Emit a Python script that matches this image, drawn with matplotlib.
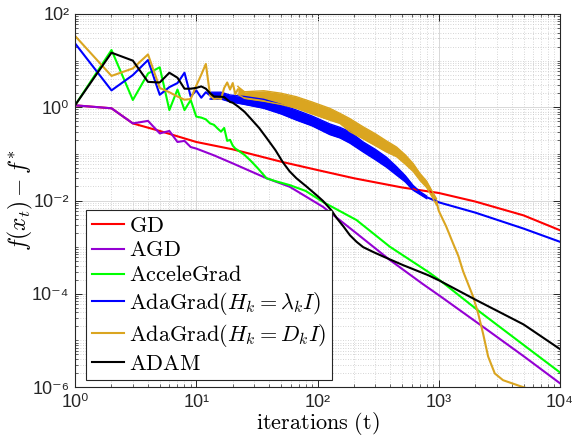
import numpy as np
import matplotlib
matplotlib.use("Agg")
import matplotlib.pyplot as plt
from matplotlib.ticker import LogLocator, FuncFormatter, NullFormatter

plt.rcParams['mathtext.fontset'] = 'cm'

# ---------------- data ----------------
gd_t = [1, 2, 3, 5, 10, 20, 50, 100, 200, 500, 1000, 2000, 5000, 10000]
gd_f = [1.1, 0.95, 0.45, 0.31, 0.18, 0.125, 0.068, 0.045, 0.03, 0.019, 0.0145, 0.0095, 0.0048, 0.0023]

agd_t = [1, 2, 3, 4, 5, 6, 7, 8, 9, 10, 14, 20, 38, 59, 111, 210, 395, 743, 1020, 2320, 5000, 10000]
agd_f = [1.1, 0.95, 0.45, 0.51, 0.275, 0.31, 0.18, 0.19, 0.14, 0.13, 0.093, 0.0625, 0.03, 0.0197,
         0.0073, 0.00197, 5.3e-4, 1.6e-4, 9e-5, 1.95e-5, 4.6e-6, 1.2e-6]

acc_t = [1, 2, 3, 4, 5, 6, 7, 8, 9, 10, 11, 12, 13, 14, 15, 16, 17, 18, 19, 20, 21, 22, 25, 28, 32,
         38, 45, 59, 80, 111, 210, 395, 818, 1020, 2180, 5000, 10000]
acc_f = [1.1, 16.9, 1.43, 5.3, 7.2, 0.87, 2.4, 0.87, 1.43, 0.63, 0.6, 0.55, 0.45, 0.42, 0.35, 0.3,
         0.36, 0.19, 0.2, 0.15, 0.13, 0.12, 0.095, 0.072, 0.05, 0.03, 0.026, 0.0214, 0.016, 0.0093,
         0.0038, 1.02e-3, 2.95e-4, 1.95e-4, 4.1e-5, 8e-6, 2.05e-6]

# AdaGrad(H_k = lambda_k I): start, oscillating band, tail
ada1_t = [1, 2, 3, 4, 5, 6, 7, 8, 9, 10, 11, 12, 13]
ada1_f = [23.5, 2.3, 4.9, 10.3, 1.85, 2.7, 3.3, 5.5, 1.7, 2.3, 1.6, 2.1, 1.8]
ada1_band_t = [13, 16, 19, 25, 36, 50, 67, 90, 126, 153, 185, 238, 300, 370, 449, 530, 615, 700, 794]
ada1_hi = [2.1, 2.1, 1.83, 1.7, 1.48, 1.15, 0.87, 0.65, 0.44, 0.37, 0.3, 0.18, 0.125, 0.085, 0.053,
           0.034, 0.021, 0.0155, 0.0125]
ada1_lo = [1.5, 1.5, 1.31, 1.15, 0.95, 0.72, 0.53, 0.4, 0.26, 0.22, 0.17, 0.11, 0.075, 0.052, 0.035,
           0.025, 0.0166, 0.0135, 0.011]
ada1_tail_t = [794, 1021, 2000, 5000, 10000]
ada1_tail_f = [0.0118, 0.009, 0.0055, 0.0025, 0.0013]

# AdaGrad(H_k = D_k I)
ada2_t = [1, 2, 3, 4, 5, 6, 7, 8, 9, 10, 11, 12, 13, 14, 15, 16, 17, 18, 19, 20, 21, 22]
ada2_f = [34, 4.7, 6.8, 13.6, 2.6, 2.1, 1.7, 1.45, 1.5, 2.9, 5, 8.5, 1.8, 1.5, 1.55, 1.5, 2.6, 3.4,
          2.4, 3.3, 1.9, 2.4]
ada2_band_t = [22, 25, 36, 50, 67, 90, 126, 153, 185, 238, 300, 370, 449, 530, 615, 700, 794, 880, 957]
ada2_hi = [2.8, 2.15, 2.26, 2.0, 1.68, 1.3, 0.95, 0.74, 0.57, 0.38, 0.27, 0.19, 0.14, 0.095, 0.062,
           0.038, 0.026, 0.016, 0.011]
ada2_lo = [1.9, 1.55, 1.35, 1.15, 0.95, 0.72, 0.53, 0.45, 0.3, 0.21, 0.15, 0.11, 0.087, 0.06, 0.042,
           0.027, 0.019, 0.012, 0.008]
ada2_tail_t = [957, 1000, 1150, 1313, 1450, 1590, 1923, 2113, 2320, 2555, 2900, 3390, 4660, 6000, 7000]
ada2_tail_f = [0.0095, 0.006, 0.0028, 1.2e-3, 6.5e-4, 3e-4, 8.6e-5, 3.8e-5, 1.4e-5, 4.5e-6, 1.95e-6,
               1.4e-6, 1.05e-6, 8.5e-7, 7e-7]

adam_t = [1, 2, 3, 4, 5, 6, 7, 8, 9, 10, 11, 12, 13, 14, 16, 17, 18, 19, 20, 22, 25, 28, 33, 38, 45,
          52, 59, 67, 81, 100, 111, 130, 144, 165, 185, 210, 238, 290, 348, 509, 818, 1020, 2040,
          5000, 10000]
adam_f = [1.1, 14.8, 10.0, 3.5, 3.4, 5.5, 4.3, 2.5, 2.5, 2.6, 2.8, 2.5, 2.0, 1.7, 1.68, 1.65, 1.45,
          1.3, 1.25, 1.05, 0.8, 0.58, 0.36, 0.22, 0.12, 0.065, 0.042, 0.03, 0.02, 0.0125, 0.0098,
          0.0062, 0.0042, 0.0027, 0.0018, 0.0013, 1.0e-3, 7.8e-4, 6.3e-4, 4.1e-4, 2.5e-4, 1.9e-4,
          7.3e-5, 2.2e-5, 6.5e-6]

c_gd = '#FF0000'
c_agd = '#9400D3'
c_acc = '#00FF00'
c_ada1 = '#0000FF'
c_ada2 = '#DAA520'
c_adam = '#000000'
lw = 1.5

fig = plt.figure(figsize=(5.73, 4.46), dpi=100)
ax = fig.add_axes([75 / 573, 1 - 387 / 446, 485 / 573, 373 / 446])
ax.set_xscale('log')
ax.set_yscale('log')

ax.plot(gd_t, gd_f, color=c_gd, lw=lw, label=r'$\mathrm{GD}$')
ax.plot(agd_t, agd_f, color=c_agd, lw=lw, label=r'$\mathrm{AGD}$')
ax.plot(acc_t, acc_f, color=c_acc, lw=lw, label=r'$\mathrm{AcceleGrad}$')

# oscillating AdaGrad curves: drawn as a filled band between envelopes
ax.plot(ada1_t, ada1_f, color=c_ada1, lw=lw, label=r'$\mathrm{AdaGrad}(H_k=\lambda_k I)$')
ax.fill_between(ada1_band_t, ada1_lo, ada1_hi, color=c_ada1, lw=0)
ax.plot(ada1_band_t, ada1_hi, color=c_ada1, lw=1)
ax.plot(ada1_band_t, ada1_lo, color=c_ada1, lw=1)
ax.plot(ada1_tail_t, ada1_tail_f, color=c_ada1, lw=lw)

ax.plot(ada2_t, ada2_f, color=c_ada2, lw=lw, label=r'$\mathrm{AdaGrad}(H_k=D_k I)$')
ax.fill_between(ada2_band_t, ada2_lo, ada2_hi, color=c_ada2, lw=0)
ax.plot(ada2_band_t, ada2_hi, color=c_ada2, lw=1)
ax.plot(ada2_band_t, ada2_lo, color=c_ada2, lw=1)
ax.plot(ada2_tail_t, ada2_tail_f, color=c_ada2, lw=lw)

ax.plot(adam_t, adam_f, color=c_adam, lw=lw, label=r'$\mathrm{ADAM}$')

ax.set_xlim(1, 1e4)
ax.set_ylim(1e-6, 1e2)

# ticks / grid in the MATLAB look
sup = str.maketrans('0123456789-', '⁰¹²³⁴⁵⁶⁷⁸⁹⁻')
def tick_fmt(v, p):
    return '10' + str(int(round(np.log10(v)))).translate(sup)

ax.xaxis.set_major_locator(LogLocator(base=10, numticks=10))
ax.xaxis.set_minor_locator(LogLocator(base=10, subs=np.arange(2, 10), numticks=20))
ax.yaxis.set_major_locator(LogLocator(base=100, numticks=10))
ax.yaxis.set_minor_locator(LogLocator(base=10, subs=np.arange(1, 10), numticks=30))
ax.xaxis.set_major_formatter(FuncFormatter(tick_fmt))
ax.yaxis.set_major_formatter(FuncFormatter(tick_fmt))
ax.xaxis.set_minor_formatter(NullFormatter())
ax.yaxis.set_minor_formatter(NullFormatter())
ax.tick_params(which='both', direction='in', top=True, right=True, colors='#262626',
               labelsize=13, labelcolor='#262626')
ax.tick_params(which='major', length=5, width=0.7)
ax.tick_params(which='minor', length=2.5, width=0.5)
ax.tick_params(axis='x', which='major', pad=5)
ax.tick_params(axis='y', which='major', pad=4)
for lab in ax.get_xticklabels() + ax.get_yticklabels():
    lab.set_family(['Liberation Sans', 'DejaVu Sans'])
ax.grid(True, which='major', color='#d8d8d8', lw=0.7, ls='-')
ax.grid(True, which='minor', color='#c8c8c8', lw=0.6, ls=(0, (1, 2)))
ax.set_axisbelow(True)
for s in ax.spines.values():
    s.set_color('#262626')
    s.set_linewidth(0.8)

ax.set_xlabel(r'$\mathrm{iterations\ (t)}$', fontsize=16, labelpad=-1)
ax.set_ylabel(r'$f(x_t) - f^{*}$', fontsize=17, labelpad=-2)

leg = ax.legend(loc='upper left', bbox_to_anchor=(0.0227, 0.4745), borderaxespad=0,
                fontsize=16, handlelength=1.45, handletextpad=0.25, labelspacing=0.22,
                borderpad=0.25, fancybox=False, framealpha=1)
leg.get_frame().set_edgecolor('#262626')
leg.get_frame().set_linewidth(0.8)

fig.savefig('out.png', dpi=100)
